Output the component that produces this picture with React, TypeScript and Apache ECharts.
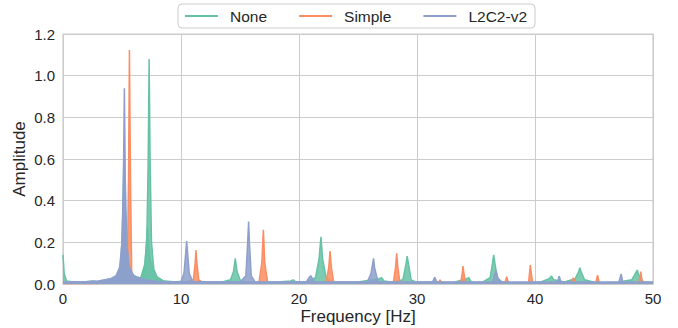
import React, { useEffect, useRef } from "react";
import * as echarts from "echarts";

const GREEN = "#66c2a5";
const ORANGE = "#fc8d62";
const BLUE = "#8da0cb";

const xTicks = [0, 10, 20, 30, 40, 50];
const yTicks = [0, 0.2, 0.4, 0.6, 0.8, 1.0, 1.2];

// "None" – main trace
const noneMain: number[][] = [
  [0, 0.14], [0.1, 0.05], [0.3, 0.015], [1, 0.008], [2, 0.01], [2.5, 0.015], [3, 0.01], [4, 0.008],
  [5, 0.01], [6, 0.015], [6.6, 0.03], [6.9, 0.07], [7.1, 0.2], [7.22, 0.6], [7.3, 1.08], [7.38, 0.6],
  [7.5, 0.2], [7.7, 0.07], [8, 0.03], [8.5, 0.015], [9, 0.01], [10, 0.012], [10.8, 0.01], [11.5, 0.012],
  [12.5, 0.008], [13.5, 0.01], [14.2, 0.02], [14.45, 0.06], [14.6, 0.123], [14.75, 0.06], [15, 0.02],
  [15.5, 0.008], [17, 0.006], [18, 0.008], [19.3, 0.015], [19.5, 0.02], [19.7, 0.012], [20.5, 0.008],
  [21.4, 0.03], [21.7, 0.12], [21.86, 0.227], [22.0, 0.12], [22.3, 0.03], [22.8, 0.01], [24, 0.008],
  [25, 0.01], [26.8, 0.025], [27, 0.03], [27.2, 0.015], [28, 0.008], [28.8, 0.02], [29.05, 0.09],
  [29.17, 0.134], [29.3, 0.09], [29.5, 0.02], [30, 0.008], [31, 0.01], [32, 0.008], [33, 0.006],
  [34.2, 0.025], [34.4, 0.03], [34.6, 0.01], [35.5, 0.008], [36.2, 0.03], [36.4, 0.1], [36.5, 0.14],
  [36.6, 0.1], [36.8, 0.03], [37.2, 0.01], [38, 0.006], [39, 0.006], [40.5, 0.01], [41.2, 0.025],
  [41.4, 0.038], [41.6, 0.02], [42.5, 0.01], [43.4, 0.025], [43.7, 0.06], [43.8, 0.078], [43.9, 0.06],
  [44.2, 0.02], [45, 0.008], [46, 0.006], [47, 0.008], [48.2, 0.02], [48.5, 0.05], [48.67, 0.067],
  [48.8, 0.04], [49.2, 0.01], [50, 0.008],
];
// "None" – lower, broader trace
const noneLow: number[][] = [
  [0, 0.005], [4, 0.006], [6, 0.01], [6.6, 0.03], [6.95, 0.1], [7.15, 0.27], [7.35, 0.12],
  [7.8, 0.04], [8.5, 0.015], [10, 0.008], [50, 0.005],
];

// "Simple"
const simpleMain: number[][] = [
  [0, 0.003], [3, 0.003], [4.5, 0.005], [5.2, 0.015], [5.45, 0.06], [5.55, 0.5], [5.63, 1.123],
  [5.72, 0.5], [5.82, 0.06], [6.1, 0.015], [7, 0.005], [10, 0.003], [11.05, 0.02], [11.2, 0.1],
  [11.27, 0.163], [11.35, 0.1], [11.5, 0.02], [12, 0.003], [16.6, 0.005], [16.85, 0.1], [16.98, 0.26],
  [17.1, 0.1], [17.35, 0.005], [20.5, 0.004], [20.65, 0.012], [20.8, 0.004], [22.3, 0.005],
  [22.52, 0.08], [22.63, 0.158], [22.74, 0.08], [22.95, 0.005], [28.0, 0.005], [28.18, 0.08],
  [28.28, 0.147], [28.38, 0.08], [28.55, 0.005], [31.8, 0.005], [31.95, 0.02], [32.1, 0.005],
  [33.7, 0.005], [33.83, 0.05], [33.9, 0.086], [33.98, 0.05], [34.1, 0.005], [37.45, 0.005],
  [37.6, 0.035], [37.75, 0.005], [39.45, 0.005], [39.55, 0.06], [39.6, 0.091], [39.67, 0.06],
  [39.8, 0.005], [43.1, 0.005], [43.25, 0.03], [43.4, 0.005], [45.15, 0.005], [45.3, 0.042],
  [45.45, 0.005], [48.8, 0.005], [48.96, 0.059], [49.1, 0.005], [50, 0.003],
];

// "L2C2-v2" – main trace
const l2c2Main: number[][] = [
  [0, 0.01], [1, 0.01], [2, 0.012], [3, 0.015], [4, 0.025], [4.5, 0.04], [4.8, 0.08], [5.0, 0.2],
  [5.12, 0.5], [5.2, 0.94], [5.28, 0.5], [5.4, 0.2], [5.6, 0.08], [6, 0.04], [7, 0.02], [8, 0.012],
  [9, 0.01], [10, 0.012], [10.25, 0.05], [10.4, 0.15], [10.48, 0.206], [10.56, 0.15], [10.7, 0.05],
  [11, 0.012], [12, 0.008], [15, 0.008], [15.5, 0.04], [15.65, 0.2], [15.73, 0.3], [15.8, 0.2],
  [15.95, 0.04], [16.3, 0.008], [20.6, 0.008], [20.85, 0.03], [20.99, 0.04], [21.1, 0.03],
  [21.3, 0.008], [25.8, 0.01], [26.1, 0.05], [26.25, 0.1], [26.32, 0.123], [26.4, 0.08], [26.7, 0.01],
  [31.3, 0.008], [31.5, 0.032], [31.7, 0.008], [36.4, 0.01], [36.6, 0.05], [36.7, 0.064],
  [36.85, 0.03], [37.1, 0.008], [41.9, 0.008], [42.06, 0.038], [42.2, 0.008], [47.1, 0.008],
  [47.3, 0.048], [47.45, 0.008], [50, 0.008],
];
// "L2C2-v2" – secondary traces
const l2c2Second: number[][] = [
  [0, 0.008], [3, 0.012], [4.5, 0.03], [4.9, 0.08], [5.05, 0.3], [5.15, 0.58], [5.3, 0.25],
  [5.6, 0.06], [6.5, 0.02], [8, 0.01], [50, 0.008],
];
const l2c2Third: number[][] = [
  [0, 0.006], [4, 0.015], [4.7, 0.04], [5.0, 0.12], [5.3, 0.35], [5.45, 0.12], [5.9, 0.03],
  [7, 0.012], [9, 0.008], [50, 0.006],
];

const FONT = "Liberation Sans, Arial, sans-serif";

function lineSeries(name: string, color: string, data: number[][], z: number) {
  return {
    type: "line",
    name,
    data,
    showSymbol: false,
    symbol: "none",
    z,
    lineStyle: { color, width: 1.5, opacity: 1 },
    itemStyle: { color },
    areaStyle: { color, opacity: 0.85 },
    emphasis: { disabled: true },
  };
}

export default function App() {
  const ref = useRef<HTMLDivElement>(null);
  useEffect(() => {
    if (!ref.current) return;
    const chart = echarts.init(ref.current, undefined, { renderer: "svg" });
    chart.setOption({
      animation: false,
      backgroundColor: "#ffffff",
      textStyle: { fontFamily: FONT },
      grid: {
        left: 63, right: 25, top: 34, bottom: 44,
        containLabel: false,
        outerBoundsMode: "none",
        show: true, borderColor: "#cccccc", borderWidth: 1.25, backgroundColor: "transparent",
      },
      legend: {
        top: 4,
        left: 178,
        data: ["None", "Simple", "L2C2-v2"],
        icon: "rect",
        itemWidth: 33,
        itemHeight: 2,
        itemGap: 32,
        padding: [4, 8, 4, 7],
        borderColor: "#cccccc",
        borderWidth: 1,
        borderRadius: 4,
        backgroundColor: "rgba(255,255,255,0.85)",
        textStyle: { fontFamily: FONT, fontSize: 15.5, color: "#262626", padding: [0, 0, 0, 7] },
      },
      xAxis: {
        type: "value",
        min: 0,
        max: 50,
        interval: 10,
        name: "Frequency [Hz]",
        nameLocation: "middle",
        nameGap: 24,
        nameMoveOverlap: false,
        nameTextStyle: { fontFamily: FONT, fontSize: 17, color: "#262626" },
        axisLine: { show: false },
        axisTick: { show: false },
        axisLabel: { fontFamily: FONT, fontSize: 15, color: "#262626", margin: 7 },
        splitLine: { show: true, lineStyle: { color: "#cccccc", width: 1 } },
      },
      yAxis: {
        type: "value",
        min: 0,
        max: 1.2,
        interval: 0.2,
        name: "Amplitude",
        nameLocation: "middle",
        nameGap: 35,
        nameMoveOverlap: false,
        nameTextStyle: { fontFamily: FONT, fontSize: 17, color: "#262626" },
        axisLine: { show: false },
        axisTick: { show: false },
        axisLabel: {
          fontFamily: FONT, fontSize: 15, color: "#262626", margin: 8,
          formatter: (v: number) => v.toFixed(1),
        },
        splitLine: { show: true, lineStyle: { color: "#cccccc", width: 1 } },
      },
      series: [
        lineSeries("None", GREEN, noneLow, 2),
        lineSeries("None", GREEN, noneMain, 2),
        lineSeries("Simple", ORANGE, simpleMain, 3),
        lineSeries("L2C2-v2", BLUE, l2c2Third, 4),
        lineSeries("L2C2-v2", BLUE, l2c2Second, 4),
        lineSeries("L2C2-v2", BLUE, l2c2Main, 4),
      ],
    });
    return () => chart.dispose();
  }, []);
  return <div ref={ref} style={{ position: "fixed", left: 0, top: 0, width: 678, height: 328 }} />;
}
